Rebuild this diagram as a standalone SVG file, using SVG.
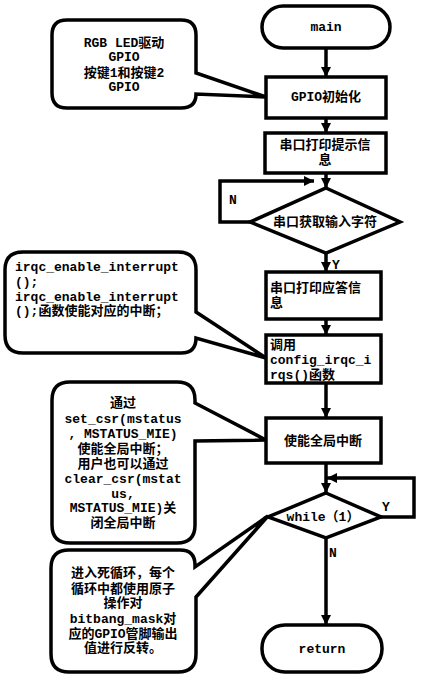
<svg xmlns="http://www.w3.org/2000/svg" width="433" height="684" viewBox="0 0 433 684">
<defs>
<marker id="ah" viewBox="0 0 10 10" refX="10" refY="5" markerWidth="10" markerHeight="10" markerUnits="userSpaceOnUse" orient="auto">
<path d="M0,0 L10,5 L0,10 Z" fill="#000"/>
</marker>
<style>
.s{fill:#fff;stroke:#000;stroke-width:3.5;stroke-linejoin:miter}
.c{fill:none;stroke:#000;stroke-width:3.5}
text{font-family:"Liberation Mono","Noto Sans CJK SC",monospace;font-weight:bold;font-size:13px;fill:#000;dominant-baseline:central}
.m{text-anchor:middle}
</style>
</defs>
<rect width="433" height="684" fill="#fff"/>
<g id="connectors">
<path class="c" d="M326,48 V77" marker-end="url(#ah)"/>
<path class="c" d="M326,118 V133" marker-end="url(#ah)"/>
<path class="c" d="M326,173 V188" marker-end="url(#ah)"/>
<path class="c" d="M250,222 H220 V181 H314" marker-end="url(#ah)"/>
<path class="c" d="M326,253 V272" marker-end="url(#ah)"/>
<path class="c" d="M326,319 V335" marker-end="url(#ah)"/>
<path class="c" d="M326,383 V418" marker-end="url(#ah)"/>
<path class="c" d="M326,463 V493" marker-end="url(#ah)"/>
<path class="c" d="M381,517 H414 V478 H327" marker-end="url(#ah)"/>
<path class="c" d="M326,538 V625" marker-end="url(#ah)"/>
<text x="233" y="200" class="m">N</text>
<text x="336" y="265" class="m">Y</text>
<text x="386" y="507" class="m">Y</text>
<text x="333" y="553" class="m">N</text>
</g>
<g id="main">
<rect class="s" x="262" y="6" width="128" height="42" rx="21"/>
<text x="326" y="27" class="m">main</text>
</g>
<g id="gpio_init">
<rect class="s" x="266" y="77" width="120" height="41"/>
<text x="326" y="97" class="m">GPIO初始化</text>
</g>
<g id="print_hint">
<rect class="s" x="265" y="133" width="121" height="40"/>
<text x="325" y="145" class="m">串口打印提示信</text>
<text x="325" y="160" class="m">息</text>
</g>
<g id="get_char">
<path class="s" d="M326,188 L400,222 L326,253 L250,222 Z"/>
<text x="325" y="222" class="m">串口获取输入字符</text>
</g>
<g id="print_ack">
<rect class="s" x="266" y="272" width="115" height="47"/>
<text x="270" y="288">串口打印应答信</text>
<text x="270" y="303">息</text>
</g>
<g id="config_irqs">
<rect class="s" x="266" y="335" width="115" height="48"/>
<text x="270" y="345">调用</text>
<text x="270" y="360">config_irqc_i</text>
<text x="270" y="375">rqs()函数</text>
</g>
<g id="enable_global">
<rect class="s" x="266" y="418" width="115" height="45"/>
<text x="323" y="441" class="m">使能全局中断</text>
</g>
<g id="while_loop">
<path class="s" d="M326,493 L381,517 L326,538 L268,517 Z"/>
<text x="323" y="517" class="m">while（1）</text>
</g>
<g id="return">
<rect class="s" x="262" y="625" width="120" height="47" rx="23"/>
<text x="322" y="649" class="m">return</text>
</g>
<g id="note_gpio">
<path class="s" d="M67,20 H181 Q196,20 196,35 V73 L266,97 L196,94 Q196,108 181,108 H67 Q52,108 52,93 V35 Q52,20 67,20 Z"/>
<text x="124" y="43" class="m">RGB LED驱动</text>
<text x="124" y="57" class="m">GPIO</text>
<text x="124" y="73" class="m">按键1和按键2</text>
<text x="124" y="87" class="m">GPIO</text>
</g>
<g id="note_irqc">
<path class="s" d="M23,252 H178 Q196,252 196,270 V312 L266,358 L196,338 Q196,353 181,353 H23 Q5,353 5,335 V270 Q5,252 23,252 Z"/>
<text x="15" y="267">irqc_enable_interrupt</text>
<text x="15" y="282">();</text>
<text x="15" y="297">irqc_enable_interrupt</text>
<text x="15" y="311">();函数使能对应的中断；</text>
</g>
<g id="note_csr">
<path class="s" d="M70,382 H177 Q195,382 195,400 V403 L266,440 L195,441 V525 Q195,543 177,543 H70 Q52,543 52,525 V400 Q52,382 70,382 Z"/>
<text x="123" y="403" class="m">通过</text>
<text x="123" y="419" class="m">set_csr(mstatus</text>
<text x="123" y="434" class="m">, MSTATUS_MIE)</text>
<text x="123" y="449" class="m">使能全局中断；</text>
<text x="123" y="464" class="m">用户也可以通过</text>
<text x="123" y="479" class="m">clear_csr(mstat</text>
<text x="123" y="494" class="m">us,</text>
<text x="123" y="508" class="m">MSTATUS_MIE)关</text>
<text x="123" y="523" class="m">闭全局中断</text>
</g>
<g id="note_loop">
<path class="s" d="M69,550 H180 Q195,550 195,565 V567 L268,516 L196,597 V654 Q196,672 178,672 H69 Q51,672 51,654 V568 Q51,550 69,550 Z"/>
<text x="123" y="573" class="m">进入死循环，每个</text>
<text x="123" y="589" class="m">循环中都使用原子</text>
<text x="123" y="603" class="m">操作对</text>
<text x="123" y="619" class="m">bitbang_mask对</text>
<text x="123" y="634" class="m">应的GPIO管脚输出</text>
<text x="123" y="648" class="m">值进行反转。</text>
</g>
</svg>
